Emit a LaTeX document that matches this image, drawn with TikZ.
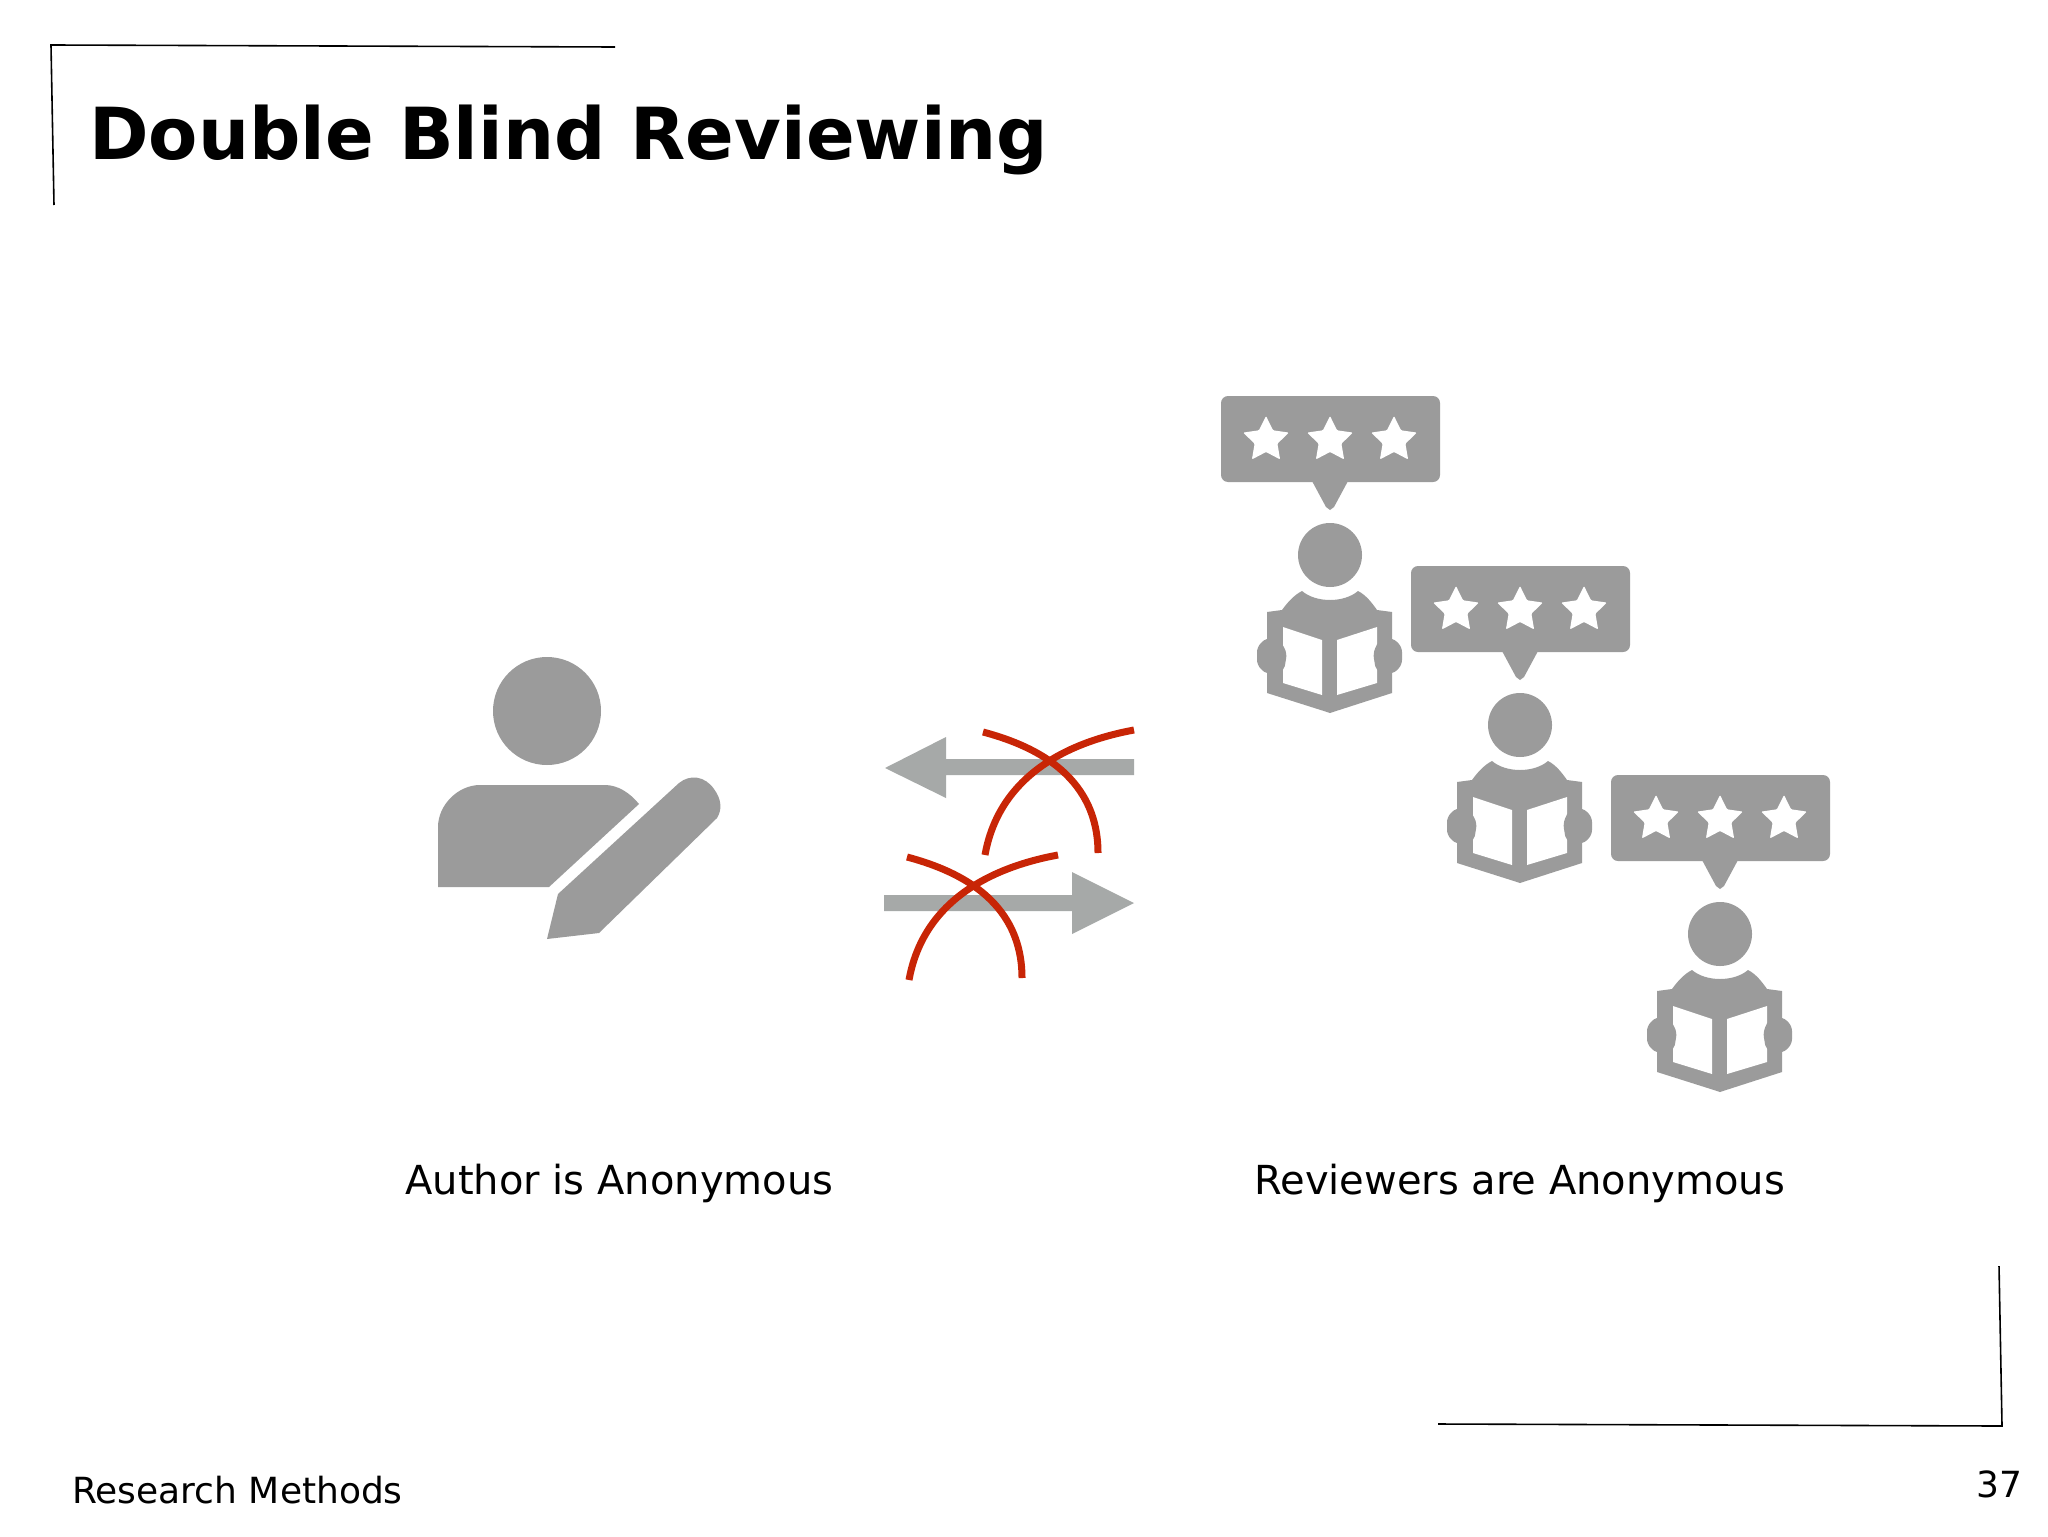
\documentclass[tikz,border=0pt]{standalone}
\usepackage{fontspec}
\setmainfont{DejaVu Sans}
\usetikzlibrary{shapes.geometric}
\definecolor{icon}{HTML}{9B9B9B}
\definecolor{arrowgray}{HTML}{A6A9A8}
\definecolor{cross}{HTML}{C82506}
\tikzset{
  frameline/.style={draw=black, line width=0.8pt},
  ico/.style={fill=icon, draw=none},
  page/.style={fill=white, draw=none},
  arr/.style={fill=arrowgray, draw=none},
  red/.style={draw=cross, line width=3.5pt},
  starnode/.style={star, star points=5, star point ratio=2.0, fill=white, inner sep=0pt, minimum size=24pt, rounded corners=0.5pt},
  title/.style={anchor=base west, inner sep=0pt, font=\fontsize{35.9}{40}\selectfont\bfseries},
  lab/.style={anchor=base west, inner sep=0pt, font=\fontsize{20}{24}\selectfont},
  foot/.style={anchor=base west, inner sep=0pt, font=\fontsize{18}{22}\selectfont},
  % one reader with his rating, drawn round (0,0) = middle of the head
  reviewer/.pic={
    \fill[ico,rounded corners=3.5pt] (-109,-159) rectangle (110,-73);
    \fill[ico] (-18,-74) -- (18,-74) -- (4,-48) -- (0,-45) -- (-4,-48) -- cycle;
    \foreach \i/\xs in {1/-64,2/0,3/64}
      \node[starnode] (star\i) at (\xs,-115) {};
    \fill[ico] (0,0) circle (32);
    % body and book
    \fill[ico] (-28,36) .. controls (-14,48) and (14,48) .. (28,36)
      .. controls (36,40) and (42,48) .. (47,55) -- (62,57) -- (62,138) -- (3,157) -- (0,158)
      -- (-3,157) -- (-63,138) -- (-63,57) -- (-48,55) .. controls (-43,48) and (-36,40) .. (-28,36) -- cycle;
    \fill[page] (-47,72) -- (-8,85) -- (-8,140) -- (-47,128) -- cycle;
    \fill[page] (47,72) -- (7,85) -- (7,140) -- (47,128) -- cycle;
    % hands
    \fill[ico,rounded corners=2.5pt] (-64,83) -- (-50,85) -- (-43,98) -- (-46,116) -- (-64,119) -- (-73,110) -- (-73,92) -- cycle;
    \fill[ico,rounded corners=2.5pt] (63,83) -- (49,85) -- (43,98) -- (46,116) -- (63,119) -- (72,110) -- (72,92) -- cycle;
  },
  % the two crossed arcs
  crossout/.pic={
    \draw[red] (0,0) .. controls (45,12) and (115,40) .. (115,121);
    \draw[red] (151,-2) .. controls (75,12) and (15,50) .. (2,123);
  },
}

\begin{document}
\begin{tikzpicture}[x=0.5pt,y=-0.5pt]
  \useasboundingbox (0,0) rectangle (2048,1536);
  \fill[white] (0,0) rectangle (2048,1536);

  \coordinate (TLb) at (54,205);
  \coordinate (TLc) at (51,45);
  \coordinate (TLe) at (615,47);
  \coordinate (BRt) at (1999,1266);
  \coordinate (BRc) at (2002,1426);
  \coordinate (BRe) at (1438,1424);
  \draw[frameline] (TLb) -- (TLc) -- (TLe);
  \draw[frameline] (BRt) -- (BRc) -- (BRe);

  \node[title] (head) at (89,159) {Double Blind Reviewing};

  % author
  \fill[ico] (547,711) circle (54);
  \fill[ico] (438,887) -- (438,827) .. controls (438,805) and (458,785) .. (480,785)
    -- (605,785) .. controls (618,785) and (630,793) .. (639,804) -- (549,887) -- cycle;
  \fill[ico] (547,939) -- (558,894) -- (679,783) .. controls (690,774) and (705,776) .. (714,789)
    .. controls (722,800) and (722,810) .. (717,818) -- (599,933) -- cycle;

  % arrows
  \fill[arr] (885,768) -- (946,737) -- (946,759) -- (1134,759) -- (1134,775) -- (946,775) -- (946,798) -- cycle;
  \fill[arr] (1134,903) -- (1072,872) -- (1072,895) -- (884,895) -- (884,911) -- (1072,911) -- (1072,934) -- cycle;
  \pic at (983,732) {crossout};
  \pic at (907,857) {crossout};

  % reviewers
  \pic at (1330,555) {reviewer};
  \pic at (1520,725) {reviewer};
  \pic at (1720,934) {reviewer};

  \node[lab] (author) at (405,1194) {Author is Anonymous};
  \node[lab] (rev) at (1254,1194) {Reviewers are Anonymous};
  \node[foot] (course) at (72,1503) {Research Methods};
  \node[foot] (num) at (1976,1497) {37};
\end{tikzpicture}
\end{document}
